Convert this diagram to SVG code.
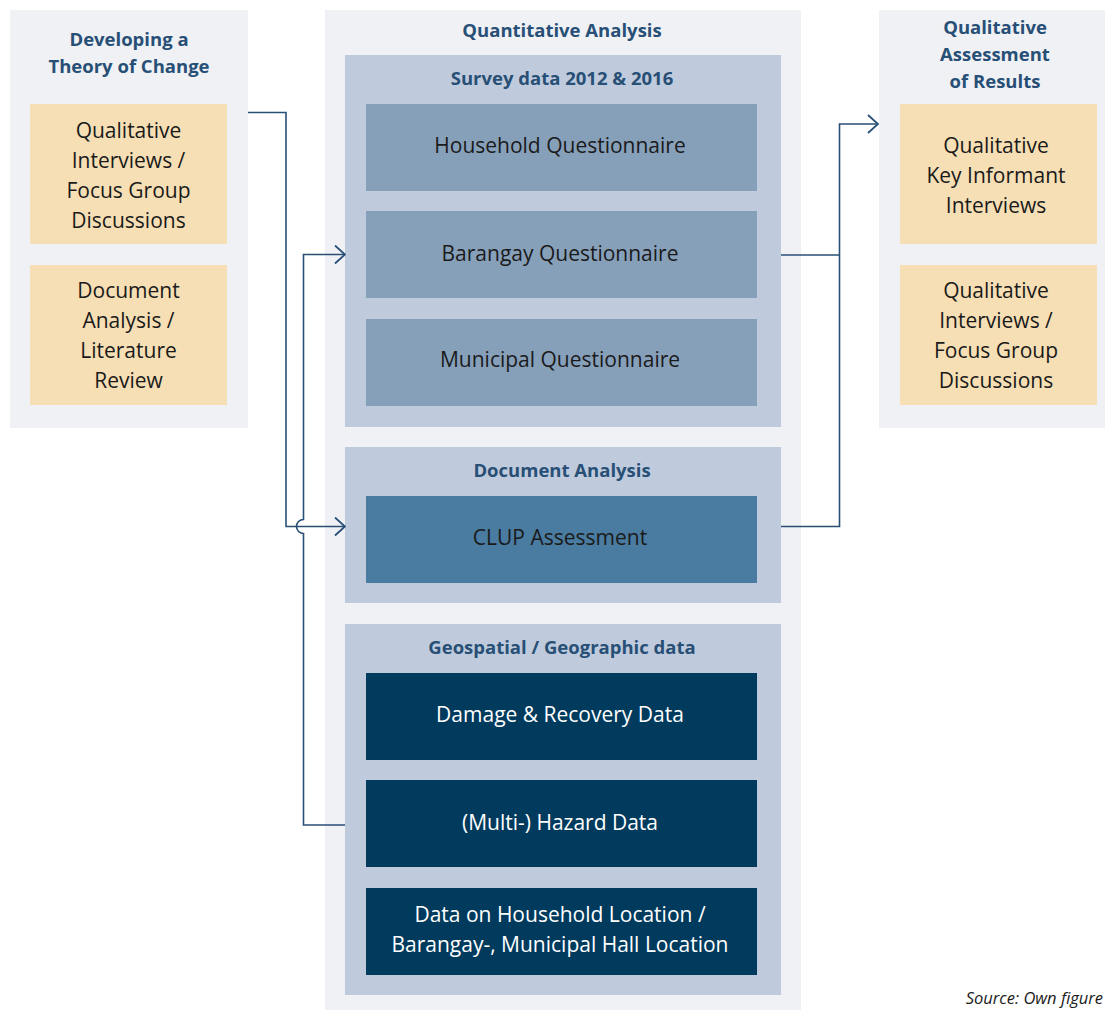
<svg xmlns="http://www.w3.org/2000/svg" width="1105" height="1010" viewBox="0 0 1105 1010">
<defs>
<marker id="arr" viewBox="0 0 12 20" refX="11" refY="10" markerWidth="12" markerHeight="20" markerUnits="userSpaceOnUse" orient="auto">
<path d="M1,1 L11,10 L1,19" fill="none" stroke="#284f75" stroke-width="1.8"/>
</marker>
<style>
.panel{fill:#eff1f5}
.grp{fill:#bfcbdd}
.beige{fill:#f6dfb5}
.b1{fill:#87a0ba}
.b2{fill:#4a7ba0}
.b3{fill:#003a5d}
.t{font-family:"Open Sans","Noto Sans",sans-serif;font-size:21px;fill:#1a1a1a;text-anchor:middle}
.tw{font-family:"Open Sans","Noto Sans",sans-serif;font-size:21px;fill:#ffffff;text-anchor:middle}
.h{font-family:"Open Sans","Noto Sans",sans-serif;font-size:18.5px;font-weight:bold;fill:#284f75;text-anchor:middle}
.ln{fill:none;stroke:#284f75;stroke-width:1.6}
.src{font-family:"Open Sans","Noto Sans",sans-serif;font-size:16.5px;font-style:italic;fill:#1a1a1a;text-anchor:end}
</style>
</defs>
<rect width="1105" height="1010" fill="#ffffff"/>

<g id="theory-of-change">
<rect class="panel" x="10" y="10" width="238" height="418"/>
<text class="h" x="129" y="46">Developing a</text>
<text class="h" x="129" y="73">Theory of Change</text>
</g>
<g id="qual-interviews-left">
<rect class="beige" x="30" y="104" width="197" height="140"/>
<text class="t" x="128.5" y="138">Qualitative</text>
<text class="t" x="128.5" y="168">Interviews /</text>
<text class="t" x="128.5" y="198">Focus Group</text>
<text class="t" x="128.5" y="228">Discussions</text>
</g>
<g id="document-analysis-left">
<rect class="beige" x="30" y="265" width="197" height="140"/>
<text class="t" x="128.5" y="298">Document</text>
<text class="t" x="128.5" y="328">Analysis /</text>
<text class="t" x="128.5" y="358">Literature</text>
<text class="t" x="128.5" y="388">Review</text>
</g>

<g id="quantitative-analysis">
<rect class="panel" x="325" y="10" width="476" height="1000"/>
<text class="h" x="562" y="37">Quantitative Analysis</text>
</g>
<g id="survey-data">
<rect class="grp" x="345" y="55" width="436" height="372"/>
<text class="h" x="562" y="85">Survey data 2012 &amp; 2016</text>
</g>
<g id="household-questionnaire">
<rect class="b1" x="366" y="104" width="391" height="87"/>
<text class="t" x="560" y="153">Household Questionnaire</text>
</g>
<g id="barangay-questionnaire">
<rect class="b1" x="366" y="211" width="391" height="87"/>
<text class="t" x="560" y="261">Barangay Questionnaire</text>
</g>
<g id="municipal-questionnaire">
<rect class="b1" x="366" y="319" width="391" height="87"/>
<text class="t" x="560" y="367">Municipal Questionnaire</text>
</g>
<g id="document-analysis">
<rect class="grp" x="345" y="447" width="436" height="156"/>
<text class="h" x="562" y="477">Document Analysis</text>
</g>
<g id="clup-assessment">
<rect class="b2" x="366" y="496" width="391" height="87"/>
<text class="t" x="560" y="545">CLUP Assessment</text>
</g>
<g id="geospatial-data">
<rect class="grp" x="345" y="624" width="436" height="371"/>
<text class="h" x="562" y="654">Geospatial / Geographic data</text>
</g>
<g id="damage-recovery">
<rect class="b3" x="366" y="673" width="391" height="87"/>
<text class="tw" x="560" y="722">Damage &amp; Recovery Data</text>
</g>
<g id="hazard-data">
<rect class="b3" x="366" y="780" width="391" height="87"/>
<text class="tw" x="560" y="830">(Multi-) Hazard Data</text>
</g>
<g id="location-data">
<rect class="b3" x="366" y="888" width="391" height="87"/>
<text class="tw" x="560" y="922">Data on Household Location /</text>
<text class="tw" x="560" y="952">Barangay-, Municipal Hall Location</text>
</g>

<g id="qualitative-assessment">
<rect class="panel" x="879" y="10" width="226" height="418"/>
<text class="h" x="995" y="34">Qualitative</text>
<text class="h" x="995" y="61">Assessment</text>
<text class="h" x="995" y="88">of Results</text>
</g>
<g id="key-informant">
<rect class="beige" x="900" y="104" width="197" height="140"/>
<text class="t" x="996" y="153">Qualitative</text>
<text class="t" x="996" y="183">Key Informant</text>
<text class="t" x="996" y="213">Interviews</text>
</g>
<g id="qual-interviews-right">
<rect class="beige" x="900" y="265" width="197" height="140"/>
<text class="t" x="996" y="298">Qualitative</text>
<text class="t" x="996" y="328">Interviews /</text>
<text class="t" x="996" y="358">Focus Group</text>
<text class="t" x="996" y="388">Discussions</text>
</g>

<g id="connectors">
<path class="ln" d="M248,112.5 H286 V526.5 H345" marker-end="url(#arr)"/>
<path class="ln" d="M345,825 H303.5 V533.5 A7,7 0 0 1 303.5,519.5 V254.5 H345" marker-end="url(#arr)"/>
<path class="ln" d="M781,255 H839.5"/>
<path class="ln" d="M781,526.5 H839.5 V124 H878" marker-end="url(#arr)"/>
</g>

<text class="src" x="1103" y="1004">Source: Own figure</text>
</svg>
